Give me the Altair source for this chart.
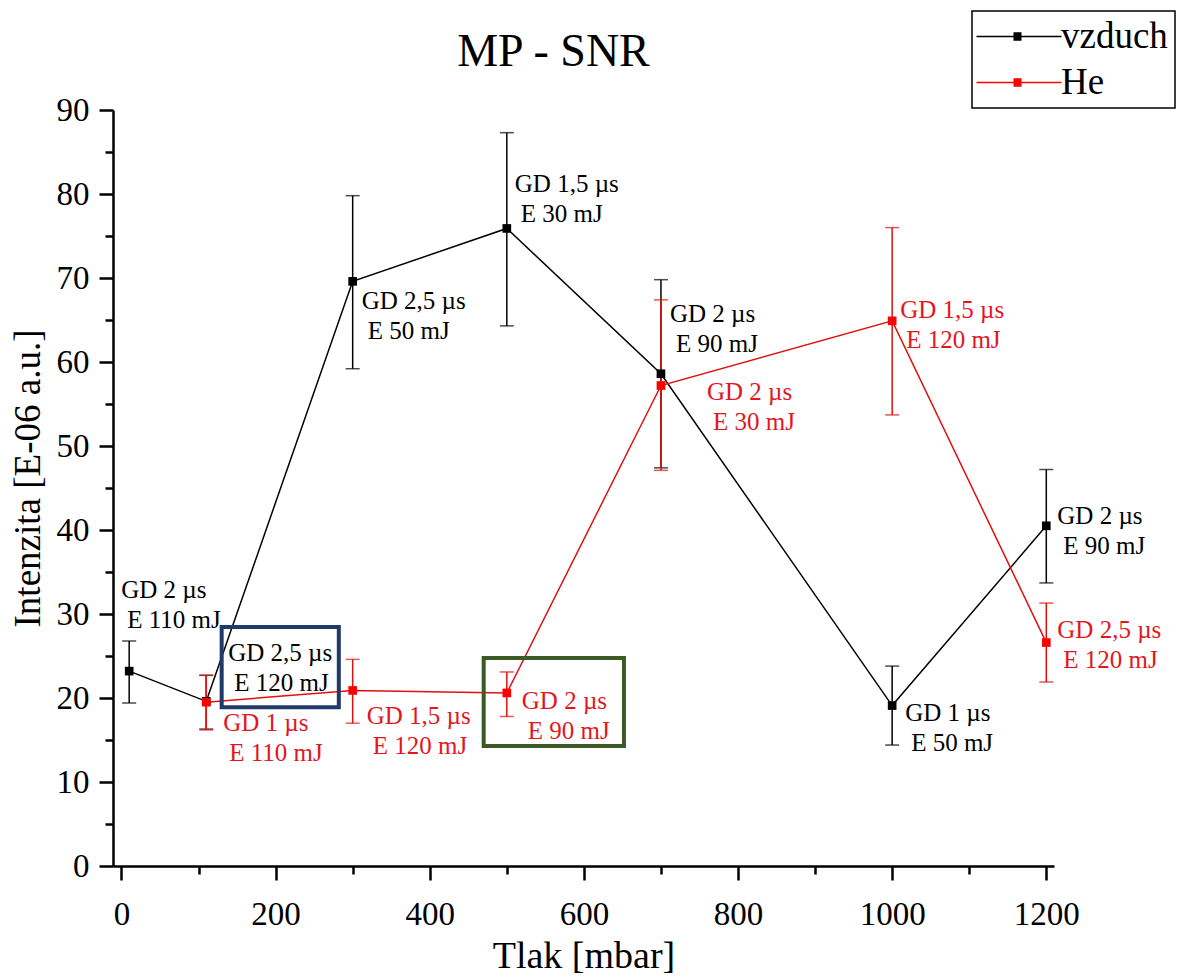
import altair as alt
import pandas as pd

# ---- data ----
pressure_vzduch = [10, 110, 300, 500, 700, 1000, 1200]
intensity_vzduch = [23.2, 19.6, 69.6, 75.9, 58.6, 19.1, 40.5]
err_low_vzduch = [19.4, 16.3, 59.2, 64.3, 47.4, 14.4, 33.7]
err_high_vzduch = [26.8, 22.7, 79.8, 87.3, 69.8, 23.8, 47.2]
gd_vzduch = ["GD 2 µs", "GD 2,5 µs", "GD 2,5 µs", "GD 1,5 µs", "GD 2 µs", "GD 1 µs", "GD 2 µs"]
e_vzduch = ["E 110 mJ", "E 120 mJ", "E 50 mJ", "E 30 mJ", "E 90 mJ", "E 50 mJ", "E 90 mJ"]

pressure_he = [110, 300, 500, 700, 1000, 1200]
intensity_he = [19.5, 20.9, 20.6, 57.2, 64.9, 26.6]
err_low_he = [16.2, 17.0, 17.8, 47.1, 53.7, 21.9]
err_high_he = [22.7, 24.6, 23.1, 67.4, 76.0, 31.3]
gd_he = ["GD 1 µs", "GD 1,5 µs", "GD 2 µs", "GD 2 µs", "GD 1,5 µs", "GD 2,5 µs"]
e_he = ["E 110 mJ", "E 120 mJ", "E 90 mJ", "E 30 mJ", "E 120 mJ", "E 120 mJ"]

series_names = ["vzduch", "He"]
x_ticks = list(range(0, 1201, 100))
y_ticks = list(range(0, 91, 5))

# highlight boxes (data units)
box_x1 = [130, 470]
box_x2 = [282, 652]
box_y1 = [18.9, 14.3]
box_y2 = [28.45, 24.76]
box_colors = ["#1f3a68", "#3b5a26"]

# ---- styling / layout ----
FONT = "Liberation Serif"
BLACK = "#000000"
RED_LINE = "#e01010"
RED_TEXT = "#e3161e"
W, H = 941, 756
ANN_SIZE = 25
LINE_GAP = 15      # half distance between the two annotation lines
INDENT = 6         # second line indent

# label block offsets (pixels) relative to each point: left x, block centre y
off_vzduch = [(-8, -66), (22, -33), (9, 35), (8, -29), (9, -45), (13, 22), (11, 5)]
off_he = [(17, 36), (14, 41), (15, 23), (46, 21), (8, 4), (11, 2)]

df_v = pd.DataFrame({"Tlak": pressure_vzduch, "I": intensity_vzduch,
                     "lo": err_low_vzduch, "hi": err_high_vzduch,
                     "l1": gd_vzduch, "l2": e_vzduch, "Series": "vzduch"})
df_h = pd.DataFrame({"Tlak": pressure_he, "I": intensity_he,
                     "lo": err_low_he, "hi": err_high_he,
                     "l1": gd_he, "l2": e_he, "Series": "He"})
df_all = pd.concat([df_v, df_h], ignore_index=True)

xscale = alt.Scale(domain=[-11, 1210], nice=False, zero=False)
yscale = alt.Scale(domain=[0, 90], nice=False)

x_axis = alt.Axis(
    title="Tlak [mbar]", values=x_ticks, grid=False, format="d",
    labelExpr="datum.value % 200 === 0 ? datum.label : ''",
    tickSize={"condition": {"test": "datum.value % 200 !== 0", "value": 8}, "value": 14},
    tickWidth=2.5, tickColor=BLACK, domainColor=BLACK, domainWidth=2.5,
    labelFont=FONT, labelFontSize=33, labelColor=BLACK, labelPadding=18,
    labelFlush=False, labelOverlap=False,
    titleFont=FONT, titleFontSize=38, titleFontWeight="normal", titleColor=BLACK,
    titleBaseline="alphabetic", titleY=101,
)
y_axis = alt.Axis(
    title="Intenzita [E-06 a.u.]", values=y_ticks, grid=False, format="d",
    labelExpr="datum.value % 10 === 0 ? datum.label : ''",
    tickSize={"condition": {"test": "datum.value % 10 !== 0", "value": 8}, "value": 14},
    tickWidth=2.5, tickColor=BLACK, domainColor=BLACK, domainWidth=2.5,
    labelFont=FONT, labelFontSize=33, labelColor=BLACK, labelPadding=10,
    labelFlush=False, labelOverlap=False,
    titleFont=FONT, titleFontSize=37, titleFontWeight="normal", titleColor=BLACK,
    titleBaseline="middle", titleX=-85, titleY=368, titleAngle=-90,
)

X = alt.X("Tlak:Q", scale=xscale, axis=x_axis)
Y = alt.Y("I:Q", scale=yscale, axis=y_axis)
Xn = alt.X("Tlak:Q", scale=xscale)
Yn = alt.Y("I:Q", scale=yscale)


def series_layers(df, color, width=1.5):
    line = alt.Chart(df).mark_line(color=color, strokeWidth=width).encode(x=X, y=Y)
    rule = alt.Chart(df).mark_rule(color=color, strokeWidth=1.5).encode(
        x=Xn, y=alt.Y("lo:Q", scale=yscale), y2="hi:Q")
    cap_lo = alt.Chart(df).mark_tick(color=color, orient="horizontal", size=14, thickness=1.5).encode(
        x=Xn, y=alt.Y("lo:Q", scale=yscale))
    cap_hi = alt.Chart(df).mark_tick(color=color, orient="horizontal", size=14, thickness=1.5).encode(
        x=Xn, y=alt.Y("hi:Q", scale=yscale))
    return [line, rule, cap_lo, cap_hi]


# legend symbol: thin line with a small square; symbolSize 400 -> 10 px per unit
legend_path = ("M-2.1,-0.07H6.4V0.07H-2.1Z "
               "M1.6,-0.42H2.4V0.42H1.6Z")

points = alt.Chart(df_all).mark_point(shape="square", filled=True, size=75, opacity=1).encode(
    x=Xn, y=Yn,
    color=alt.Color("Series:N",
                    scale=alt.Scale(domain=series_names, range=[BLACK, "#ff0000"]),
                    legend=alt.Legend(title=None, orient="none", legendX=859, legendY=-99,
                                      symbolType=legend_path, symbolSize=400,
                                      symbolStrokeWidth=0, symbolOpacity=1,
                                      labelFont=FONT, labelFontSize=37, labelColor=BLACK,
                                      labelOffset=45, labelLimit=400,
                                      padding=7, rowPadding=8,
                                      strokeColor=BLACK)),
)

text_layers = []
for df, offs, col in [(df_v, off_vzduch, BLACK), (df_h, off_he, RED_TEXT)]:
    for i, (dx, dy) in enumerate(offs):
        row = df.iloc[[i]]
        text_layers.append(
            alt.Chart(row).mark_text(align="left", baseline="middle", dx=dx, dy=dy - LINE_GAP,
                                     font=FONT, fontSize=ANN_SIZE, color=col).encode(
                x=Xn, y=Yn, text="l1:N")
        )
        text_layers.append(
            alt.Chart(row).mark_text(align="left", baseline="middle", dx=dx + INDENT,
                                     dy=dy + LINE_GAP,
                                     font=FONT, fontSize=ANN_SIZE, color=col).encode(
                x=Xn, y=Yn, text="l2:N")
        )

box_layers = []
for i in range(len(box_x1)):
    bdf = pd.DataFrame({"x1": [box_x1[i]], "x2": [box_x2[i]],
                        "y1": [box_y1[i]], "y2": [box_y2[i]]})
    box_layers.append(
        alt.Chart(bdf).mark_rect(fillOpacity=0, stroke=box_colors[i], strokeWidth=4).encode(
            x=alt.X("x1:Q", scale=xscale), x2="x2:Q",
            y=alt.Y("y1:Q", scale=yscale), y2="y2:Q")
    )

layers = (series_layers(df_v, BLACK) + series_layers(df_h, RED_LINE)
          + box_layers + [points] + text_layers)

chart = alt.layer(*layers).properties(
    width=W, height=H,
    background="white",
    title=alt.TitleParams("MP - SNR", font=FONT, fontSize=46, fontWeight="normal",
                          color=BLACK, anchor="middle", dx=-30, offset=-102,
                          baseline="alphabetic"),
    autosize=alt.AutoSizeParams(type="none"),
    padding={"left": 113, "top": 110, "right": 134, "bottom": 111},
).configure(
    style={"cell": {"stroke": "transparent", "strokeWidth": 0}}
).configure_view(
    stroke="transparent", strokeWidth=0, strokeOpacity=0
).configure_axis(grid=False).configure_legend(strokeWidth=1.5)

chart.save("out.html", embed_options={"renderer": "svg", "actions": False})
